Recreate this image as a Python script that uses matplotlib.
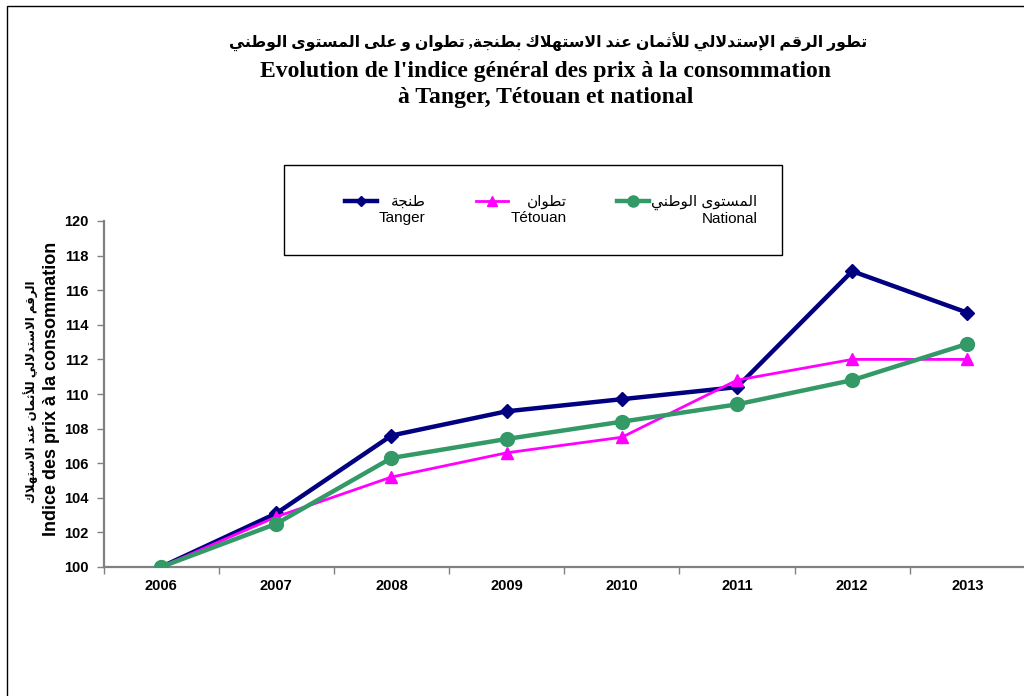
import matplotlib
matplotlib.use("Agg")
import matplotlib.pyplot as plt
from matplotlib.patches import Rectangle
from matplotlib.legend_handler import HandlerLine2D
import numpy as np

# ---------------- data ----------------
years = ["2006", "2007", "2008", "2009", "2010", "2011", "2012", "2013"]
tanger = [100.0, 103.1, 107.6, 109.0, 109.7, 110.4, 117.1, 114.7]
tetouan = [100.0, 102.9, 105.2, 106.6, 107.5, 110.8, 112.0, 112.0]
national = [100.0, 102.5, 106.3, 107.4, 108.4, 109.4, 110.8, 112.9]
yticks = [100, 102, 104, 106, 108, 110, 112, 114, 116, 118, 120]

title_ar = "تطور الرقم الإستدلالي للأثمان عند الاستهلاك بطنجة, تطوان و على المستوى الوطني"
title_fr1 = "Evolution de l'indice général des prix à la consommation"
title_fr2 = "à Tanger, Tétouan et national"
ylabel_ar = "الرقم الاستدلالي للأثمان عند الاستهلاك"
ylabel_fr = "Indice des prix à la consommation"
labels_ar = ["طنجة", "تطوان", "المستوى الوطني"]
labels_fr = ["Tanger", "Tétouan", "National"]

# ------------- minimal Arabic shaping (presentation forms) -------------
DUAL = {
    'ب': 0xFE8F, 'ت': 0xFE95, 'ث': 0xFE99, 'ج': 0xFE9D, 'س': 0xFEB1,
    'ط': 0xFEC1, 'ع': 0xFEC9, 'ق': 0xFED5, 'ك': 0xFED9, 'ل': 0xFEDD,
    'م': 0xFEE1, 'ن': 0xFEE5, 'ه': 0xFEE9, 'ي': 0xFEF1, 'ح': 0xFEA1,
    'خ': 0xFEA5, 'ش': 0xFEB5, 'ص': 0xFEB9, 'ض': 0xFEBD, 'ظ': 0xFEC5,
    'غ': 0xFECD, 'ف': 0xFED1,
}
RIGHT = {
    'ا': 0xFE8D, 'أ': 0xFE83, 'إ': 0xFE87, 'آ': 0xFE81, 'ة': 0xFE93,
    'د': 0xFEA9, 'ذ': 0xFEAB, 'ر': 0xFEAD, 'ز': 0xFEAF, 'و': 0xFEED,
    'ى': 0xFEEF,
}
LAMALEF = {'ا': 0xFEFB, 'أ': 0xFEF7, 'إ': 0xFEF9, 'آ': 0xFEF5}


def shape_ar(s):
    items = []
    i = 0
    while i < len(s):
        c = s[i]
        if c == 'ل' and i + 1 < len(s) and s[i + 1] in LAMALEF:
            items.append(('LA', LAMALEF[s[i + 1]]))
            i += 2
        else:
            items.append(('C', c))
            i += 1

    def is_letter(it):
        return it is not None and (it[0] == 'LA' or it[1] in DUAL or it[1] in RIGHT)

    def joins_fwd(it):
        return it is not None and it[0] == 'C' and it[1] in DUAL

    out = []
    for k, it in enumerate(items):
        prev = items[k - 1] if k > 0 else None
        nxt = items[k + 1] if k + 1 < len(items) else None
        if it[0] == 'LA':
            out.append(chr(it[1] + (1 if joins_fwd(prev) else 0)))
            continue
        c = it[1]
        if c in DUAL:
            base = DUAL[c]
            jp = joins_fwd(prev)
            jn = is_letter(nxt)
            if jp and jn:
                out.append(chr(base + 3))
            elif jp:
                out.append(chr(base + 1))
            elif jn:
                out.append(chr(base + 2))
            else:
                out.append(chr(base))
        elif c in RIGHT:
            out.append(chr(RIGHT[c] + (1 if joins_fwd(prev) else 0)))
        else:
            out.append(c)
    return "".join(out)[::-1]


# ---------------- figure ----------------
W, H = 1024, 696
fig = plt.figure(figsize=(W / 100, H / 100), dpi=100)
fig.patch.set_facecolor("white")

# outer chart border
fig.add_artist(Rectangle((7 / W, -0.05), 1.1, 1 - 6 / H + 0.05, transform=fig.transFigure,
                         fill=False, edgecolor="black", lw=1.0))

ax = fig.add_axes([103.5 / W, 1 - 567 / H, (1025 - 103.5) / W, (567 - 221) / H])

SANS = ["Liberation Sans", "DejaVu Sans"]
SERIF = ["Liberation Serif", "DejaVu Sans"]

x = np.arange(len(years))
ax.plot(x, tanger, color="#000080", lw=3.2, marker="D", ms=7,
        label=shape_ar(labels_ar[0]) + "\n" + labels_fr[0], zorder=3)
ax.plot(x, tetouan, color="#FF00FF", lw=2.0, marker="^", ms=9,
        label=shape_ar(labels_ar[1]) + "\n" + labels_fr[1], zorder=4)
ax.plot(x, national, color="#339966", lw=3.2, marker="o", ms=10,
        label=shape_ar(labels_ar[2]) + "\n" + labels_fr[2], zorder=5)

ax.set_xlim(-0.5, len(years) - 0.5)
ax.set_ylim(100, 120)
ax.set_yticks(yticks)
ax.set_yticklabels([str(v) for v in yticks], fontfamily=SANS, fontweight="bold", fontsize=10.5)
ax.set_xticks(np.arange(-0.5, len(years) + 0.5, 1.0))
ax.set_xticklabels([])
ax.set_xticks(x, minor=True)
ax.set_xticklabels(years, minor=True, fontfamily=SANS, fontweight="bold", fontsize=10.5)
ax.tick_params(axis="x", which="minor", length=0, pad=9)
ax.tick_params(axis="x", which="major", length=5, width=1, color="#808080", direction="out")
ax.tick_params(axis="y", length=5, width=1, color="#808080", direction="out", pad=6)
for s in ["top", "right"]:
    ax.spines[s].set_visible(False)
for s in ["left", "bottom"]:
    ax.spines[s].set_color("#808080")
    ax.spines[s].set_linewidth(1.6)

# titles
fig.text(548 / W, 1 - 42 / H, shape_ar(title_ar), ha="center", va="center",
         fontfamily=SERIF, fontweight="bold", fontsize=11.3)
fig.text(546 / W, 1 - 71 / H, title_fr1, ha="center", va="center",
         fontfamily=SERIF, fontweight="bold", fontsize=17)
fig.text(546 / W, 1 - 97 / H, title_fr2, ha="center", va="center",
         fontfamily=SERIF, fontweight="bold", fontsize=17)

# y labels
fig.text(31 / W, 1 - 392 / H, shape_ar(ylabel_ar), rotation=90, ha="center", va="center",
         fontfamily=SANS, fontweight="bold", fontsize=8.5)
fig.text(52 / W, 1 - 389 / H, ylabel_fr, rotation=90, ha="center", va="center",
         fontfamily=SANS, fontweight="bold", fontsize=13)

# legend box
fig.add_artist(Rectangle((284 / W, 1 - 255 / H), (782 - 284) / W, (255 - 165) / H,
                         transform=fig.transFigure, fill=False, edgecolor="black", lw=1.0))


class UpHandler(HandlerLine2D):
    def create_artists(self, legend, orig_handle, xdescent, ydescent, width, height, fontsize, trans):
        arts = super().create_artists(legend, orig_handle, xdescent, ydescent, width, height, fontsize, trans)
        for a in arts:
            a.set_ydata(np.asarray(a.get_ydata()) + 0.62 * fontsize)
            a.set_markersize(a.get_markersize() * 0.8)
        return arts


leg = ax.legend(loc="center", bbox_to_anchor=(551 / W, 1 - 210 / H), bbox_transform=fig.transFigure,
                ncol=3, frameon=False, handlelength=2.1, handletextpad=0.15, columnspacing=3.3,
                prop={"family": SANS, "size": 11}, numpoints=1,
                handler_map={plt.Line2D: UpHandler()})
for t in leg.get_texts():
    t.set_multialignment("right")

fig.savefig("out.png", dpi=100, facecolor="white")
